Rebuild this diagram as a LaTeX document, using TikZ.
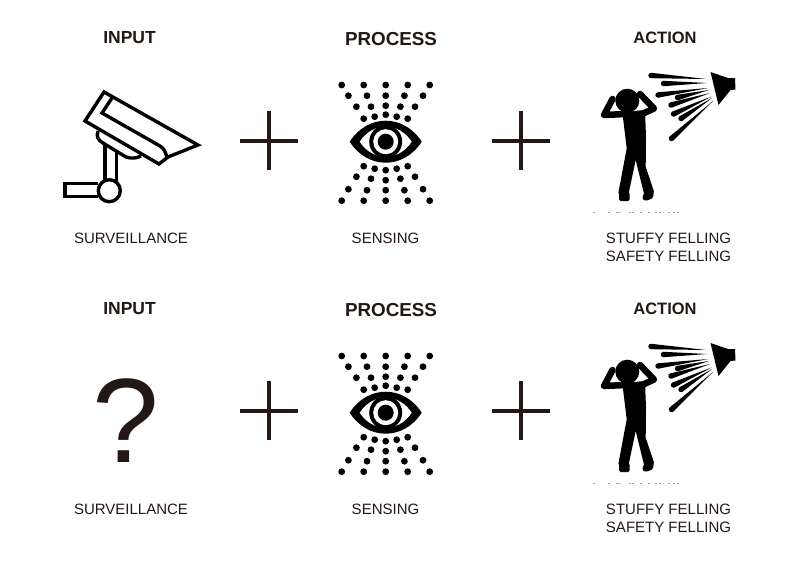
\documentclass[tikz,border=0pt]{standalone}
\usepackage{fontspec}
\setmainfont{Liberation Sans}
\usetikzlibrary{calc}
\definecolor{inkdark}{HTML}{231815}

\tikzset{
  head/.style={font=\bfseries\fontsize{16.5}{18}\selectfont,inner sep=0pt,text=inkdark},
  bighead/.style={font=\bfseries\fontsize{18.8}{20}\selectfont,inner sep=0pt,text=inkdark},
  caption/.style={font=\fontsize{15}{18}\selectfont,inner sep=0pt,align=center,text=inkdark},
  plusbar/.style={line width=3.2pt,inkdark},
  camline/.style={line width=3.4pt,line join=miter},
  limb/.style={line width=6.5pt,line cap=round,line join=round},
}
% eye with dots, drawn round its centre
\newcommand{\eyeicon}[2]{%
\begin{scope}[shift={(#1,#2)}]
  \fill (-36,0) .. controls (-18,-28) and (18,-28) .. (36,0) .. controls (18,28) and (-18,28) .. (-36,0);
  \fill[white] (-26,0) .. controls (-13,-20) and (13,-20) .. (26,0) .. controls (13,20) and (-13,20) .. (-26,0);
  \fill (0,0) circle (16.5);
  \fill[white] (0,0) circle (12.5);
  \fill (0,0) circle (8);
  \foreach \dotx/\doty in {-44/-56.7,-22/-56.7,0/-56.7,22/-56.7,44/-56.7,
    -37.3/-46,-18.7/-46,0/-46,18.7/-46,37.3/-46,
    -29.3/-35,-14.7/-35,0/-36,14.7/-35,29.3/-35,
    -22/-23,-11/-25,0/-27,11/-25,22/-23,
    -22/24.5,-11/27,0/28.5,11/27,22/24.5,
    -29.3/35,-14.7/37,0/38.5,14.7/37,29.3/35,
    -37.3/47.5,-18.7/48.5,0/48.5,18.7/48.5,37.3/47.5,
    -44/59,-22/59,0/59,22/59,44/59}{
    \fill (\dotx,\doty) circle (3.4);
  }
\end{scope}}
% man under the loudspeaker
\newcommand{\manicon}[1]{%
\begin{scope}[yshift=-#1pt]
  \fill (627.3,100.7) circle (12);
  \draw[limb] (626,114) -- (604,115) -- (612.5,99);
  \draw[limb] (642,114) -- (654,108.5) -- (640,94);
  \fill (622.3,112) -- (626.7,148.3) -- (618.3,193.3) -- (628.3,195) -- (635.7,160) -- (644.3,195) -- (654,191.7) -- (645.7,166.7) -- (646,136.7) -- (645,110) -- cycle;
  \fill[rounded corners=1.5pt] (619,192) rectangle (629.5,201);
  \fill[rounded corners=1.5pt] (644,193) -- (654,190) -- (653,198) -- (646,201) -- (642,199) -- cycle;
  % speaker
  \fill (710.5,72) -- (718.5,105) -- (730.5,90) -- (735.5,89.5) -- (735,78) -- (728,78) -- cycle;
  \foreach \outx/\outy/\inx/\iny in {651/75.5/706/79,663.5/83.5/707/83,658/95/708/88,
    677.5/97.5/709/90,671/105/710/93,673.5/114/711.5/96.5,681/118.5/712/98,671.5/138.5/713/101}{
    \fill ($(\outx,\outy)!2.7pt!90:(\inx,\iny)$) -- (\inx,\iny) -- ($(\outx,\outy)!2.7pt!-90:(\inx,\iny)$) -- cycle;
    \fill (\outx,\outy) circle (2.7);
  }
  % specks under the feet
  \foreach \speckx in {593,608,616,619,629,632,640,648,655,659,668,673,677}{
    \fill[black!35] (\speckx,212) rectangle ++(2,1);
  }
\end{scope}}

\begin{document}
\begin{tikzpicture}[x=1pt,y=-1pt]
\useasboundingbox[fill=white] (0,0) rectangle (800,565);

% top row
\node[head,font=\bfseries\fontsize{17.5}{18}\selectfont] (inputA) at (129.5,38) {INPUT};
\node[bighead] (processA) at (391,39.5) {PROCESS};
\node[head] (actionA) at (665,38) {ACTION};
\node[caption] (survA) at (131,238.5) {SURVEILLANCE};
\node[caption] (sensA) at (385.5,238.5) {SENSING};
\node[caption] (feelA) at (668.5,247.5) {STUFFY FELLING\\SAFETY FELLING};

% camera
\draw[camline] (104,92) -- (85,121) -- (159,164) -- (168,157) -- (198,145) -- cycle;
\draw[camline] (112,98) -- (102,113) -- (160,146) .. controls (164,149) .. (167,157);
\draw[camline] (98,131) .. controls (96,137) and (98,140) .. (103,143) -- (126,157) .. controls (132,159) and (137,158) .. (141,156);
\draw[camline] (105,144) -- (105,180);
\draw[camline] (116.5,151) -- (116.5,181);
\draw[camline] (98,183.5) -- (65,183.5) -- (65,196.5) -- (98,196.5);
\draw[camline,fill=white] (109.3,190.7) circle (11);

\draw[plusbar] (240,141) -- (298,141);
\draw[plusbar] (269,111) -- (269,170);
\draw[plusbar] (492,141) -- (550,141);
\draw[plusbar] (521,111) -- (521,170);
\eyeicon{385.7}{141.7}
\manicon{0}

% bottom row
\node[head,font=\bfseries\fontsize{17.5}{18}\selectfont] (inputB) at (129.5,309) {INPUT};
\node[bighead] (processB) at (391,310.5) {PROCESS};
\node[head] (actionB) at (665,309) {ACTION};
\node[caption] (survB) at (131,509.5) {SURVEILLANCE};
\node[caption] (sensB) at (385.5,509.5) {SENSING};
\node[caption] (feelB) at (668.5,518.5) {STUFFY FELLING\\SAFETY FELLING};
\node[inner sep=0pt,font=\fontsize{120}{120}\selectfont,text=inkdark] (query) at (126,421) {?};

\draw[plusbar] (240,411) -- (298,411);
\draw[plusbar] (269,381) -- (269,440);
\draw[plusbar] (492,411) -- (550,411);
\draw[plusbar] (521,381) -- (521,440);
\eyeicon{385.7}{412.7}
\manicon{271}
\end{tikzpicture}
\end{document}
